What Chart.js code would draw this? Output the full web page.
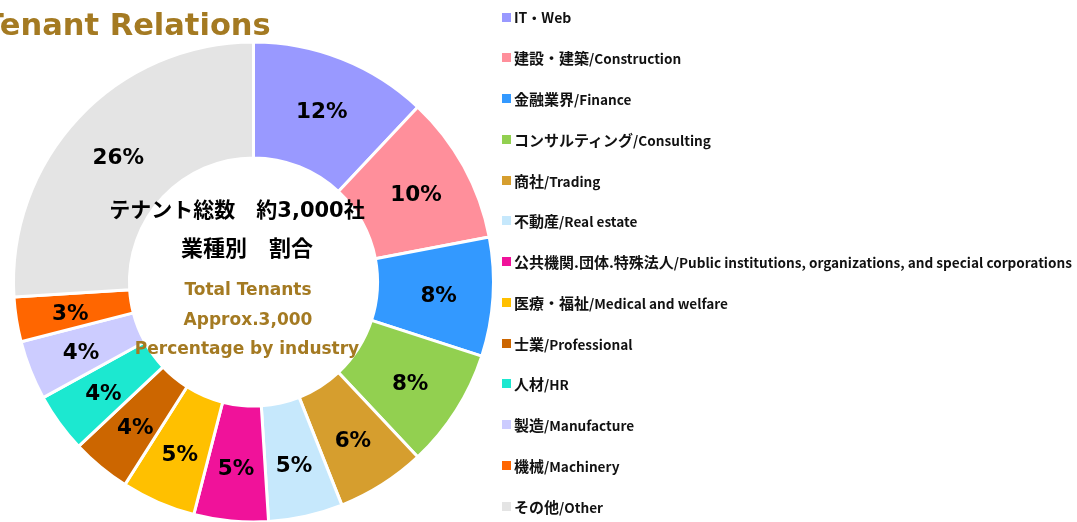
<!DOCTYPE html>
<html>
<head>
<meta charset="utf-8">
<script src="https://cdn.jsdelivr.net/npm/chart.js@4.4.0/dist/chart.umd.min.js"></script>
<style>
  html, body { margin: 0; padding: 0; background: #fff; overflow: hidden; }
  #wrap { position: relative; width: 1077px; height: 522px; }
  #c { position: absolute; left: 0; top: 0; }
  #title { position: absolute; left: -17px; top: 7px; height: 36px; line-height: 36px;
           font: bold 30.5px "DejaVu Sans", "Noto Sans CJK JP", sans-serif; color: #a47a22; white-space: nowrap; }
  .li { position: absolute; left: 502px; height: 20px; display: flex; align-items: center; white-space: nowrap;
        font: bold 14px "Noto Sans CJK JP", sans-serif; color: #111; }
  .li .bx { width: 9px; height: 9px; margin-right: 3px; flex: none; }
  .li .ja { font-size: 15px; }
  .li .en { font-size: 13.6px; }
</style>
</head>
<body>
<div id="wrap">
  <canvas id="c" width="1077" height="522"></canvas>
  <div id="title">Tenant Relations</div>
  <div id="legend"></div>
</div>
<script>
const categories = [
  'IT・Web',
  '建設・建築/Construction',
  '金融業界/Finance',
  'コンサルティング/Consulting',
  '商社/Trading',
  '不動産/Real estate',
  '公共機関.団体.特殊法人/Public institutions, organizations, and special corporations',
  '医療・福祉/Medical and welfare',
  '士業/Professional',
  '人材/HR',
  '製造/Manufacture',
  '機械/Machinery',
  'その他/Other'
];
const shares = [12, 10, 8, 8, 6, 5, 5, 5, 4, 4, 4, 3, 26];
const colors = ['#9999ff', '#ff8f9b', '#3399ff', '#92d050', '#d69e2e', '#c6e8fc', '#f0129a',
                '#ffc000', '#cc6600', '#1ce8d0', '#ccccff', '#ff6600', '#e4e4e4'];
const centerLinesJa = ['テナント総数　約3,000社', '業種別　割合'];
const centerLinesEn = ['Total Tenants', 'Approx.3,000', 'Percentage by industry'];

// HTML legend
const legend = document.getElementById('legend');
categories.forEach((name, i) => {
  const d = document.createElement('div');
  d.className = 'li';
  d.style.top = (17 + i * 40.75 - 10) + 'px';
  const b = document.createElement('span');
  b.className = 'bx';
  b.style.background = colors[i];
  const t = document.createElement('span');
  const k = name.indexOf('/');
  if (k > 0) {
    const ja = document.createElement('span');
    ja.className = 'ja';
    ja.textContent = name.slice(0, k);
    const en = document.createElement('span');
    en.className = 'en';
    en.textContent = name.slice(k);
    t.appendChild(ja); t.appendChild(en);
  } else {
    t.textContent = name;
  }
  d.appendChild(b); d.appendChild(t);
  legend.appendChild(d);
});

const labelPlugin = {
  id: 'sliceLabels',
  afterDatasetsDraw(chart) {
    const ctx = chart.ctx;
    const meta = chart.getDatasetMeta(0);
    ctx.save();
    ctx.font = 'bold 21.5px "DejaVu Sans", sans-serif';
    ctx.fillStyle = '#000';
    ctx.textAlign = 'center';
    ctx.textBaseline = 'middle';
    meta.data.forEach((arc, i) => {
      const p = arc.getProps(['x', 'y', 'startAngle', 'endAngle', 'innerRadius', 'outerRadius'], true);
      const a = (p.startAngle + p.endAngle) / 2;
      const r = p.innerRadius + 0.53 * (p.outerRadius - p.innerRadius);
      ctx.fillText(shares[i] + '%', p.x + Math.cos(a) * r, p.y + 3 + Math.sin(a) * r);
    });
    ctx.restore();
  },
  afterDraw(chart) {
    const ctx = chart.ctx;
    ctx.save();
    ctx.textAlign = 'center';
    ctx.textBaseline = 'middle';
    ctx.fillStyle = '#000';
    ctx.font = 'bold 21px "DejaVu Sans", "Noto Sans CJK JP", sans-serif';
    ctx.fillText(centerLinesJa[0], 237, 212);
    ctx.font = 'bold 22px "DejaVu Sans", "Noto Sans CJK JP", sans-serif';
    ctx.fillText(centerLinesJa[1], 247, 250);
    ctx.fillStyle = '#a47a22';
    ctx.font = 'bold 17px "DejaVu Sans", sans-serif';
    ctx.fillText(centerLinesEn[0], 248, 291);
    ctx.fillText(centerLinesEn[1], 248, 321);
    ctx.fillText(centerLinesEn[2], 247, 350);
    ctx.restore();
  }
};

new Chart(document.getElementById('c'), {
  type: 'doughnut',
  data: {
    labels: categories,
    datasets: [{
      data: shares,
      backgroundColor: colors,
      borderColor: '#ffffff',
      borderWidth: 3,
      radius: 240,
      cutout: '51.7%'
    }]
  },
  options: {
    responsive: false,
    animation: false,
    layout: { padding: { left: 0, right: 570, top: 42, bottom: 0 } },
    plugins: { legend: { display: false }, tooltip: { enabled: false }, title: { display: false } }
  },
  plugins: [labelPlugin]
});
</script>
</body>
</html>
